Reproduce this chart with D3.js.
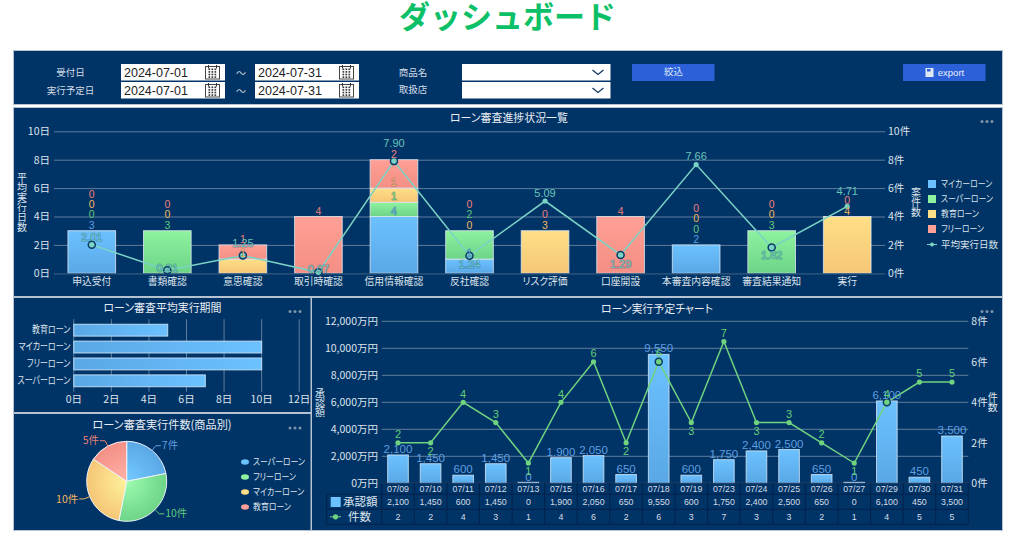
<!DOCTYPE html>
<html lang="ja">
<head>
<meta charset="utf-8">
<script src="https://cdnjs.cloudflare.com/ajax/libs/d3/7.8.5/d3.min.js"></script>
<style>
    html, body { margin: 0; padding: 0; background: #fff; overflow: hidden; }
    svg { display: block; }
    text { font-family: "Noto Sans CJK JP", "Noto Sans", sans-serif; font-feature-settings: "palt"; }
    .latin { font-family: "Liberation Sans", sans-serif; }
</style>
</head>
<body>
<div id="dashboard"></div>
<script>
// progress chart
var steps = ['申込受付', '書類確認', '意思確認', '取引時確認', '信用情報確認', '反社確認', 'リスク評価', '口座開設', '本審査内容確認', '審査結果通知', '実行'];
var myCarLoan = [3, 0, 0, 0, 4, 1, 0, 0, 2, 0, 0];
var superLoan = [0, 3, 0, 0, 1, 2, 0, 0, 0, 3, 0];
var eduLoan = [0, 0, 1, 0, 1, 0, 3, 0, 0, 0, 4];
var freeLoan = [0, 0, 1, 4, 2, 0, 0, 4, 0, 0, 0];
var avgDays = [2.01, 0.21, 1.25, 0.07, 7.90, 1.24, 5.09, 1.29, 7.66, 1.82, 4.71];
var progressTicks = [0, 2, 4, 6, 8, 10];

// average period chart
var periodLoans = ['スーパーローン', 'フリーローン', 'マイカーローン', '教育ローン'];
var periodDays = [7, 10, 10, 5];
var periodTicks = [0, 2, 4, 6, 8, 10, 12];

// pie chart
var pieLoans = ['スーパーローン', 'フリーローン', 'マイカーローン', '教育ローン'];
var pieCounts = [7, 10, 10, 5];

// schedule chart
var dates = ['07/09', '07/10', '07/11', '07/12', '07/13', '07/15', '07/16', '07/17', '07/18', '07/19', '07/23', '07/24', '07/25', '07/26', '07/27', '07/29', '07/30', '07/31'];
var approved = [2100, 1450, 600, 1450, 0, 1900, 2050, 650, 9550, 600, 1750, 2400, 2500, 650, 0, 6100, 450, 3500];
var counts = [2, 2, 4, 3, 1, 4, 6, 2, 6, 3, 7, 3, 3, 2, 1, 4, 5, 5];
var amountTicks = [0, 2000, 4000, 6000, 8000, 10000, 12000];
var countTicks = [0, 2, 4, 6, 8];

var navy = '#003366', axisText = '#dde4ec', gridColor = '#5f7d9c';
var colors = {
    my: ['#6cc1ff', '#5aa8e6', '#5f9fe0'],
    sup: ['#8ef29f', '#6dd488', '#62c97a'],
    edu: ['#ffdf87', '#f5c676', '#f2b75e'],
    free: ['#ff9f95', '#f48f85', '#ee7f78']
};
var teal = '#7bd3c6', tealText = '#6cc5ba', green = '#6fd37f';

var svg = d3.select('#dashboard').append('svg').attr('width', 1014).attr('height', 541);
var defs = svg.append('defs');

function vGrad(id, top, bottom) {
    var g = defs.append('linearGradient').attr('id', id).attr('x1', 0).attr('y1', 0).attr('x2', 0).attr('y2', 1);
    g.append('stop').attr('offset', '0%').attr('stop-color', top);
    g.append('stop').attr('offset', '100%').attr('stop-color', bottom);
}
function radGrad(id, inner, outer) {
    var g = defs.append('radialGradient').attr('id', id).attr('gradientUnits', 'userSpaceOnUse')
        .attr('cx', 0).attr('cy', 0).attr('r', 40);
    g.append('stop').attr('offset', '0%').attr('stop-color', inner);
    g.append('stop').attr('offset', '100%').attr('stop-color', outer);
}
Object.keys(colors).forEach(function(k) { vGrad('grad-' + k, colors[k][0], colors[k][1]); });
var hg = defs.append('linearGradient').attr('id', 'grad-h').attr('x1', 0).attr('y1', 0).attr('x2', 1).attr('y2', 0);
hg.append('stop').attr('offset', '0%').attr('stop-color', colors.my[1]);
hg.append('stop').attr('offset', '100%').attr('stop-color', colors.my[0]);
radGrad('pie-my', '#74caff', '#5aa8e6');
radGrad('pie-sup', '#9dfcb0', '#6dd488');
radGrad('pie-edu', '#fff29c', '#f5c676');
radGrad('pie-free', '#ffb3a8', '#f48f85');

function label(g, x, y, str, size, fill, anchor) {
    return g.append('text').attr('x', x).attr('y', y).attr('dy', '0.35em')
        .attr('font-size', size).attr('fill', fill || axisText)
        .attr('text-anchor', anchor || 'middle').text(str);
}
// the kana in the original font are narrow, no installed font has them like that
function squeeze(sel, factor) {
    sel.each(function() {
        var w = this.getComputedTextLength();
        d3.select(this).attr('textLength', w * factor).attr('lengthAdjust', 'spacingAndGlyphs');
    });
    return sel;
}
function panel(x, y, w, h) {
    svg.append('rect').attr('x', x - 0.5).attr('y', y - 0.5).attr('width', w + 1).attr('height', h + 1)
        .attr('fill', navy).attr('stroke', '#b4c2d2');
}
function moreDots(x, y) {
    [0, 5, 10].forEach(function(d) {
        svg.append('circle').attr('cx', x + d).attr('cy', y).attr('r', 1.5).attr('fill', '#7f93a8');
    });
}
function verticalName(x, y, str, step) {
    str.split('').forEach(function(c, i) { label(svg, x, y + i * step, c, 10, axisText); });
}
// horizontal gridlines + labels, done through a d3 axis
function drawValueAxis(scale, ticks, left, right, fmt, side) {
    var axis = (side === 'left' ? d3.axisLeft(scale) : d3.axisRight(scale))
        .tickValues(ticks).tickFormat(fmt).tickPadding(3)
        .tickSize(side === 'left' ? 0 : right - left);
    var g = svg.append('g').attr('transform', 'translate(' + left + ',0)').call(axis);
    g.select('.domain').remove();
    g.selectAll('line').attr('stroke', gridColor);
    g.selectAll('text').attr('fill', axisText).attr('font-size', 10.5);
    return g;
}

// page title
svg.append('text').attr('x', 507.5).attr('y', 28).attr('text-anchor', 'middle')
    .attr('font-size', 31).attr('font-weight', 700).attr('fill', '#0cc068')
    .style('font-feature-settings', 'normal').text('ダッシュボード');

// ---- filter panel ----
panel(14, 51, 988, 53);
function dateBox(x, y, str) {
    svg.append('rect').attr('x', x).attr('y', y).attr('width', 104).attr('height', 16.5).attr('fill', '#fff');
    label(svg, x + 3, y + 8.5, str, 12.5, '#222', 'start').attr('class', 'latin');
    var ix = x + 84, iy = y + 1;
    svg.append('rect').attr('x', ix + 0.5).attr('y', iy + 1.5).attr('width', 14).attr('height', 12.5)
        .attr('fill', '#fff').attr('stroke', '#444');
    [3, 11].forEach(function(d) {
        svg.append('line').attr('x1', ix + d + 0.5).attr('x2', ix + d + 0.5).attr('y1', iy).attr('y2', iy + 3.5).attr('stroke', '#333');
    });
    d3.range(12).forEach(function(i) {
        svg.append('rect').attr('x', ix + 3.5 + (i % 3) * 3).attr('y', iy + 3.5 + Math.floor(i / 3) * 2.6)
            .attr('width', 1.7).attr('height', 1.6).attr('fill', '#333');
    });
}
function selectBox(y) {
    svg.append('rect').attr('x', 462).attr('y', y).attr('width', 148.5).attr('height', 16.5).attr('fill', '#fff');
    svg.append('path').attr('d', 'M592.5 ' + (y + 6) + 'l5.5 4.5l5.5 -4.5')
        .attr('fill', 'none').attr('stroke', '#123a66').attr('stroke-width', 1.3);
}
label(svg, 70.5, 72.5, '受付日', 9.5, '#d5dde6');
label(svg, 70.5, 90.5, '実行予定日', 9.5, '#d5dde6');
dateBox(121, 64, '2024-07-01');
dateBox(255, 64, '2024-07-31');
dateBox(121, 82, '2024-07-01');
dateBox(255, 82, '2024-07-31');
label(svg, 241, 73, '～', 10, '#c4cfdb');
label(svg, 241, 91, '～', 10, '#c4cfdb');
label(svg, 413, 73, '商品名', 9.5, '#d5dde6');
label(svg, 413, 90, '取扱店', 9.5, '#d5dde6');
selectBox(64);
selectBox(82);
svg.append('rect').attr('x', 632).attr('y', 64).attr('width', 82.5).attr('height', 17).attr('fill', '#2b60d8');
label(svg, 673.5, 72, '絞込', 9.5, '#dbe6f7');
svg.append('rect').attr('x', 903).attr('y', 64).attr('width', 82.5).attr('height', 17).attr('fill', '#2b60d8');
label(svg, 951, 72.5, 'export', 9.5, '#e6edf9').attr('class', 'latin');
svg.append('rect').attr('x', 925.5).attr('y', 68).attr('width', 8).attr('height', 9).attr('fill', '#dfe7f5');
svg.append('rect').attr('x', 927).attr('y', 69).attr('width', 3.5).attr('height', 2.5).attr('fill', '#2b60d8');

// ---- progress chart ----
panel(14, 108, 988, 188);
squeeze(label(svg, 509, 118, 'ローン審査進捗状況一覧', 11.5, '#e8edf3'), 0.95);
moreDots(982, 121.5);

var px = d3.scaleBand().domain(steps).range([54, 885]).paddingInner(0.356).paddingOuter(0.178);
var py = d3.scaleLinear().domain([0, 10]).range([273.3, 131.3]);

drawValueAxis(py, progressTicks, 54, 885, function(d) { return d + '件'; }, 'right');
drawValueAxis(py, progressTicks, 53, 885, function(d) { return d + '日'; }, 'left');

var stackKeys = ['my', 'sup', 'edu', 'free'];
var stackRows = steps.map(function(s, i) {
    return { step: s, my: myCarLoan[i], sup: superLoan[i], edu: eduLoan[i], free: freeLoan[i] };
});
var stacked = d3.stack().keys(stackKeys)(stackRows);

stacked.forEach(function(layer) {
    svg.append('g').selectAll('rect')
        .data(layer.filter(function(d) { return d[1] > d[0]; }))
        .enter().append('rect')
        .attr('x', function(d) { return px(d.data.step) + 0.5; })
        .attr('width', px.bandwidth() - 1)
        .attr('y', function(d) { return py(d[1]); })
        .attr('height', function(d) { return py(d[0]) - py(d[1]); })
        .attr('fill', 'url(#grad-' + layer.key + ')')
        .attr('stroke', '#dfe9f2').attr('stroke-opacity', 0.8).attr('stroke-width', 1);
});

var xAxis1 = svg.append('g').attr('transform', 'translate(0,273.3)')
    .call(d3.axisBottom(px).tickSize(0).tickPadding(5));
xAxis1.select('.domain').attr('stroke', '#1c4670');
xAxis1.selectAll('text').attr('fill', axisText).attr('font-size', 9.8);

// average days line
var avgLine = d3.line()
    .x(function(d, i) { return px(steps[i]) + px.bandwidth() / 2; })
    .y(function(d) { return py(d); });
svg.append('path').attr('d', avgLine(avgDays)).attr('fill', 'none').attr('stroke', teal).attr('stroke-width', 1.5);

function stackTotal(i) { return myCarLoan[i] + superLoan[i] + eduLoan[i] + freeLoan[i]; }
svg.append('g').selectAll('circle').data(avgDays).enter().append('circle')
    .attr('cx', function(d, i) { return px(steps[i]) + px.bandwidth() / 2; })
    .attr('cy', function(d) { return py(d); })
    .attr('r', function(d, i) { return d < stackTotal(i) ? 3.5 : 2.6; })
    .attr('fill', teal)
    .attr('stroke', function(d, i) { return d < stackTotal(i) ? '#0b3a66' : 'none'; })
    .attr('stroke-width', 1.5);

// stack labels: zeros under the first non zero series are not shown, the rest get pushed up when they collide
steps.forEach(function(s, i) {
    var order = s === '反社確認' ? ['my', 'edu', 'sup', 'free'] : stackKeys;
    var started = false, lastY = 999;
    order.forEach(function(key) {
        var layer = stacked[stackKeys.indexOf(key)][i];
        var v = layer[1] - layer[0];
        if (v > 0) started = true;
        if (!started) return;
        var y = Math.min(py(layer[1]) - 5.5, lastY - 10.4);
        lastY = y;
        label(svg, px(s) + px.bandwidth() / 2, y, v, 10.5, colors[key][2])
            .attr('class', 'latin')
            .attr('stroke', navy).attr('stroke-opacity', 0.3).attr('stroke-width', 1.2).attr('paint-order', 'stroke');
    });
});

// where the avg label sits relative to its point
var avgLabelDy = { '申込受付': -8, '書類確認': -2, '意思確認': -12.5, '取引時確認': -3, '信用情報確認': -18, '反社確認': 8.5, '口座開設': 9, '審査結果通知': 8, '実行': -15 };
avgDays.forEach(function(d, i) {
    var dy = avgLabelDy[steps[i]] === undefined ? -8 : avgLabelDy[steps[i]];
    label(svg, px(steps[i]) + px.bandwidth() / 2, py(d) + dy, d.toFixed(2), 11, tealText)
        .attr('class', 'latin')
        .attr('stroke', navy).attr('stroke-opacity', 0.35).attr('stroke-width', 1.2).attr('paint-order', 'stroke');
});

verticalName(22, 177, '平均実行日数', 10);
verticalName(916, 192, '案件数', 10);

var progressLegend = [['my', 'マイカーローン'], ['sup', 'スーパーローン'], ['edu', '教育ローン'], ['free', 'フリーローン']];
progressLegend.forEach(function(d, i) {
    var y = 184 + i * 15;
    svg.append('rect').attr('x', 928).attr('y', y - 4).attr('width', 8).attr('height', 8).attr('fill', colors[d[0]][0]);
    squeeze(label(svg, 941, y, d[1], 9.5, axisText, 'start'), 0.83);
});
svg.append('line').attr('x1', 927).attr('x2', 937).attr('y1', 244.5).attr('y2', 244.5).attr('stroke', teal);
svg.append('circle').attr('cx', 932).attr('cy', 244.5).attr('r', 2).attr('fill', teal);
label(svg, 941, 244.5, '平均実行日数', 9.5, axisText, 'start');

// ---- average period chart ----
panel(14, 298, 296.5, 114);
squeeze(label(svg, 162.5, 308, 'ローン審査平均実行期間', 11.5, '#e8edf3'), 0.95);
moreDots(290, 311.5);

var hx = d3.scaleLinear().domain([0, 12]).range([73.3, 298.7]);
var hy = d3.scaleBand().domain(periodLoans).range([391.8, 319.2]).padding(0.3);

var hxAxis = svg.append('g').attr('transform', 'translate(0,391.8)')
    .call(d3.axisBottom(hx).tickValues(periodTicks).tickFormat(function(d) { return d + '日'; })
        .tickSize(-72.6).tickPadding(4));
hxAxis.select('.domain').remove();
hxAxis.selectAll('line').attr('stroke', gridColor);
hxAxis.selectAll('text').attr('fill', axisText).attr('font-size', 10.5);

svg.append('g').selectAll('rect').data(periodDays).enter().append('rect')
    .attr('x', hx(0) + 0.5)
    .attr('y', function(d, i) { return hy(periodLoans[i]); })
    .attr('width', function(d) { return hx(d) - hx(0); })
    .attr('height', hy.bandwidth())
    .attr('fill', 'url(#grad-h)').attr('stroke', '#bcdcf6');

var hyAxis = svg.append('g').attr('transform', 'translate(73.3,0)')
    .call(d3.axisLeft(hy).tickSize(0).tickPadding(3));
hyAxis.select('.domain').remove();
hyAxis.selectAll('text').attr('fill', axisText).attr('font-size', 10);
squeeze(hyAxis.selectAll('text'), 0.8);

// ---- pie chart ----
panel(14, 414, 296.5, 116);
squeeze(label(svg, 162, 425, 'ローン審査実行件数(商品別)', 11.5, '#e8edf3'), 0.97);
moreDots(290, 428);

var pieKeys = ['my', 'sup', 'edu', 'free'];
var arcs = d3.pie().sort(null)(pieCounts);
var arc = d3.arc().innerRadius(0).outerRadius(40);
var pieG = svg.append('g').attr('transform', 'translate(126.7,481.3)');
pieG.selectAll('path').data(arcs).enter().append('path')
    .attr('d', arc)
    .attr('fill', function(d, i) { return 'url(#pie-' + pieKeys[i] + ')'; })
    .attr('stroke', '#eef3f8').attr('stroke-width', 1);

arcs.forEach(function(d, i) {
    var mid = (d.startAngle + d.endAngle) / 2;
    var sx = Math.sin(mid), sy = -Math.cos(mid);
    var dir = sx >= 0 ? 1 : -1;
    var ex = sx * 46, ey = sy * 46;
    pieG.append('path')
        .attr('d', 'M' + sx * 40 + ' ' + sy * 40 + 'L' + ex + ' ' + ey + 'L' + (ex + dir * 5) + ' ' + ey)
        .attr('fill', 'none').attr('stroke', colors[pieKeys[i]][2]);
    label(pieG, ex + dir * 6, ey, pieCounts[i] + '件', 10.5, colors[pieKeys[i]][2], dir > 0 ? 'start' : 'end');
});

pieLoans.forEach(function(d, i) {
    var y = 462 + i * 15;
    svg.append('ellipse').attr('cx', 245).attr('cy', y).attr('rx', 4).attr('ry', 2.8).attr('fill', colors[pieKeys[i]][0]);
    squeeze(label(svg, 253, y, d, 9.5, axisText, 'start'), 0.83);
});

// ---- schedule chart ----
panel(312, 298, 690, 232);
squeeze(label(svg, 657, 309, 'ローン実行予定チャート', 11.5, '#e8edf3'), 0.95);
moreDots(982, 311.5);

var sx = d3.scaleBand().domain(dates).range([381.7, 968.3]).paddingInner(0.335).paddingOuter(0.1675);
var sy = d3.scaleLinear().domain([0, 12000]).range([483.3, 321.3]);
var sc = d3.scaleLinear().domain([0, 8]).range([483.3, 321.3]);
var mid = function(d) { return sx(d) + sx.bandwidth() / 2; };

drawValueAxis(sy, amountTicks, 381, 968.3, function(d) { return d3.format(',')(d) + '万円'; }, 'left');
// gridlines for the amount axis, the right axis only labels its own ticks
svg.append('g').selectAll('line').data(amountTicks).enter().append('line')
    .attr('x1', 381.7).attr('x2', 968.3)
    .attr('y1', function(d) { return sy(d); }).attr('y2', function(d) { return sy(d); })
    .attr('stroke', gridColor);
var rightAxis = svg.append('g').attr('transform', 'translate(968.3,0)')
    .call(d3.axisRight(sc).tickValues(countTicks).tickFormat(function(d) { return d + '件'; }).tickSize(0).tickPadding(3));
rightAxis.select('.domain').remove();
rightAxis.selectAll('text').attr('fill', axisText).attr('font-size', 10.5);

svg.append('g').selectAll('rect').data(approved).enter().append('rect')
    .attr('x', function(d, i) { return sx(dates[i]) + 0.5; })
    .attr('width', sx.bandwidth() - 1)
    .attr('y', function(d) { return sy(d) - (d === 0 ? 1 : 0); })
    .attr('height', function(d) { return d === 0 ? 1 : sy(0) - sy(d); })
    .attr('fill', 'url(#grad-my)')
    .attr('stroke', '#d5e6f5').attr('stroke-opacity', 0.8);

var countLine = d3.line().x(function(d, i) { return mid(dates[i]); }).y(function(d) { return sc(d); });
svg.append('path').attr('d', countLine(counts)).attr('fill', 'none').attr('stroke', green).attr('stroke-width', 1.5);

svg.append('g').selectAll('circle').data(counts).enter().append('circle')
    .attr('cx', function(d, i) { return mid(dates[i]); })
    .attr('cy', function(d) { return sc(d); })
    .attr('r', function(d, i) { return sc(d) > sy(approved[i]) ? 3.5 : 2.6; })
    .attr('fill', green)
    .attr('stroke', function(d, i) { return sc(d) > sy(approved[i]) ? '#0b3a66' : 'none'; })
    .attr('stroke-width', 1.5);

approved.forEach(function(d, i) {
    label(svg, mid(dates[i]), sy(d) - 6, d3.format(',')(d), 11.5, colors.my[2]).attr('class', 'latin');
});
var countLabelBelow = ['07/10', '07/13', '07/17', '07/19', '07/24', '07/27'];
counts.forEach(function(d, i) {
    var below = countLabelBelow.indexOf(dates[i]) >= 0;
    label(svg, mid(dates[i]), sc(d) + (below ? 8.5 : -8.5), d, 11, '#62cf76').attr('class', 'latin');
});

verticalName(320, 393, '承認額', 9.5);
verticalName(992.7, 397, '件数', 10);

// data table under the chart
var rowY = [483.3, 494.3, 509.3, 524.3];
var tableG = svg.append('g').attr('stroke', '#00224d').attr('fill', 'none');
rowY.forEach(function(y, r) {
    tableG.append('line').attr('x1', r === 0 ? 381.7 : 326.7).attr('x2', 968.3).attr('y1', y).attr('y2', y);
});
d3.range(dates.length + 1).forEach(function(i) {
    var x = 381.7 + i * sx.step();
    tableG.append('line').attr('x1', x).attr('x2', x).attr('y1', rowY[0]).attr('y2', rowY[3]);
});
tableG.append('line').attr('x1', 326.7).attr('x2', 326.7).attr('y1', rowY[1]).attr('y2', rowY[3]);
dates.forEach(function(d, i) {
    label(svg, mid(d), 488.8, d, 8.8, '#d5dde6').attr('class', 'latin');
    label(svg, mid(d), 501.8, d3.format(',')(approved[i]), 8.8, '#d5dde6').attr('class', 'latin');
    label(svg, mid(d), 516.8, counts[i], 8.8, '#d5dde6').attr('class', 'latin');
});
svg.append('rect').attr('x', 330.7).attr('y', 497).attr('width', 10).attr('height', 10).attr('fill', colors.my[0]);
label(svg, 343, 501.8, '承認額', 11.5, axisText, 'start');
svg.append('line').attr('x1', 330).attr('x2', 341).attr('y1', 516.8).attr('y2', 516.8).attr('stroke', green).attr('stroke-dasharray', '3 1');
svg.append('circle').attr('cx', 335.5).attr('cy', 516.8).attr('r', 2.6).attr('fill', green);
label(svg, 348, 516.8, '件数', 11.5, axisText, 'start');
</script>
</body>
</html>
